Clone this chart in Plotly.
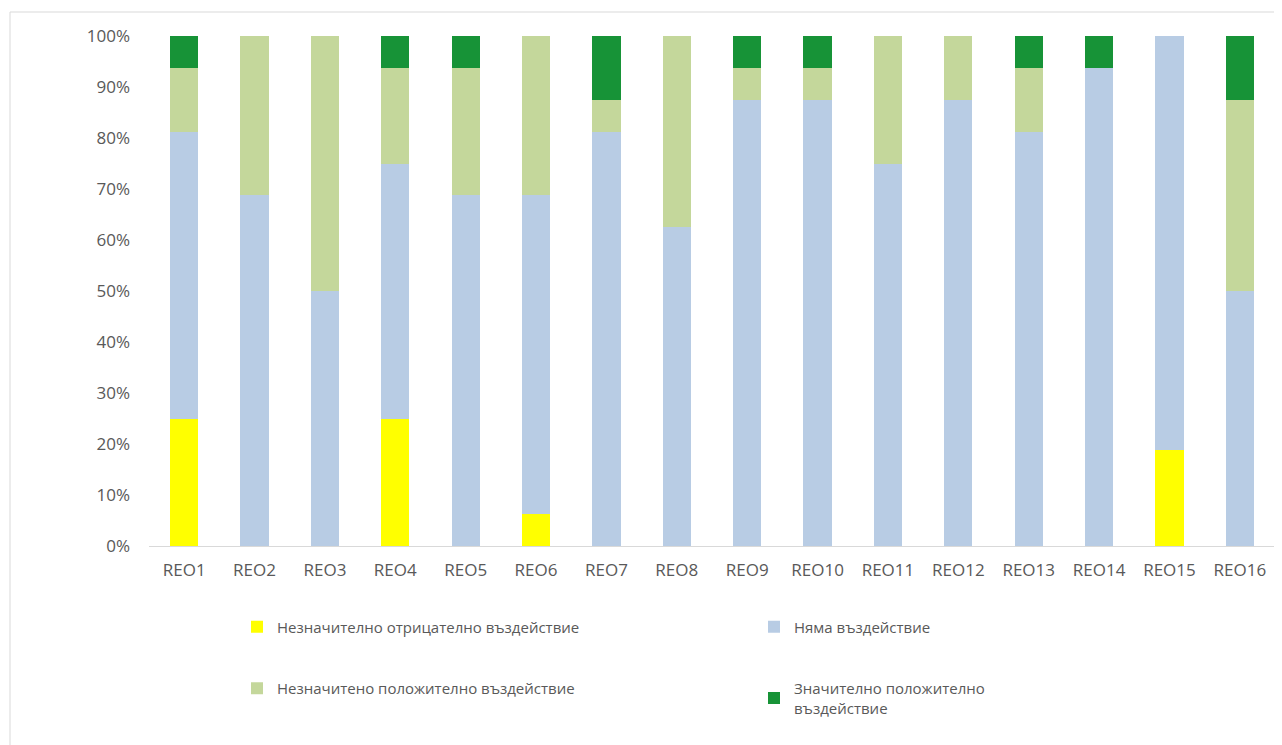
import plotly.graph_objects as go

categories = ["REO1", "REO2", "REO3", "REO4", "REO5", "REO6", "REO7", "REO8",
              "REO9", "REO10", "REO11", "REO12", "REO13", "REO14", "REO15", "REO16"]

neg_minor = [0.25, 0, 0, 0.25, 0, 0.0625, 0, 0, 0, 0, 0, 0, 0, 0, 0.1875, 0]
no_effect = [0.5625, 0.6875, 0.5, 0.5, 0.6875, 0.625, 0.8125, 0.625,
             0.875, 0.875, 0.75, 0.875, 0.8125, 0.9375, 0.8125, 0.5]
pos_minor = [0.125, 0.3125, 0.5, 0.1875, 0.25, 0.3125, 0.0625, 0.375,
             0.0625, 0.0625, 0.25, 0.125, 0.125, 0, 0, 0.375]
pos_major = [0.0625, 0, 0, 0.0625, 0.0625, 0, 0.125, 0,
             0.0625, 0.0625, 0, 0, 0.0625, 0.0625, 0, 0.125]

names = ["Незначително отрицателно въздействие", "Няма въздействие",
         "Незначитено положително въздействие", "Значително положително<br>въздействие"]
colors = ["#FFFF00", "#B8CCE4", "#C4D79B", "#179337"]
series = [neg_minor, no_effect, pos_minor, pos_major]
legends = ["legend", "legend", "legend2", "legend2"]

OFF = 8  # page body margin
W, H = 1282 - OFF, 745 - OFF
L, T = 149 - OFF, 36 - OFF
R = W - (1275 - OFF)
B = H - (546 - OFF)
PW, PH = W - L - R, H - T - B

def px(x):
    return (x - OFF - L) / PW

def py(y):
    return (H - B - (y - OFF)) / PH

fig = go.Figure()
for name, vals, col, lg in zip(names, series, colors, legends):
    fig.add_trace(go.Bar(x=categories, y=vals, name=name, marker_color=col,
                         marker_line_width=0, legend=lg))

font_family = "Open Sans, Noto Sans, sans-serif"
legend_common = dict(orientation="h", entrywidth=472, entrywidthmode="pixels",
                     font=dict(family=font_family, size=15, color="#595959"),
                     bgcolor="rgba(0,0,0,0)", xanchor="left", yanchor="middle",
                     itemclick=False, traceorder="normal")

fig.update_layout(
    width=W, height=H,
    margin=dict(l=L, r=R, t=T, b=B, autoexpand=False),
    barmode="stack", bargap=0.6,
    plot_bgcolor="white", paper_bgcolor="white",
    font=dict(family=font_family, size=15, color="#595959"),
    xaxis=dict(showline=True, linecolor="#D9D9D9", linewidth=1, showgrid=False,
               ticks="", tickfont=dict(size=17, color="#595959"), ticklabelstandoff=9),
    yaxis=dict(range=[0, 1], dtick=0.1, tickformat=".0%", showgrid=False,
               zeroline=False, showline=False, ticks="",
               tickfont=dict(size=17, color="#595959"), ticklabelstandoff=18),
    legend=dict(x=px(237), y=py(627), **legend_common),
    legend2=dict(x=px(237), y=py(698), **legend_common),
    showlegend=True,
    shapes=[
        dict(type="line", xref="paper", yref="paper", x0=px(10), x1=px(1290),
             y0=py(12), y1=py(12), line=dict(color="#D9D9D9", width=1)),
        dict(type="line", xref="paper", yref="paper", x0=px(10), x1=px(10),
             y0=py(12), y1=py(760), line=dict(color="#D9D9D9", width=1)),
    ],
)

fig.write_html("out.html")
